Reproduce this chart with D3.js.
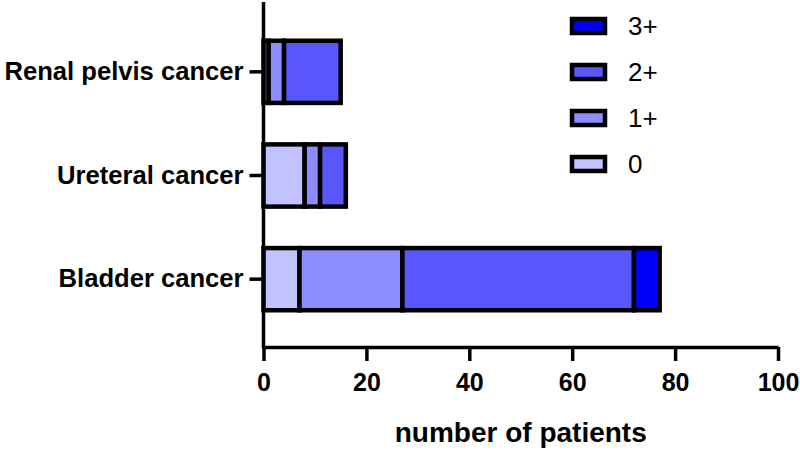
<!DOCTYPE html>
<html><head><meta charset="utf-8">
<script src="https://cdn.jsdelivr.net/npm/d3@7"></script>
<style>body{margin:0;background:#fff}svg{display:block}</style>
</head><body><svg id="c" width="800" height="451"></svg>
<script>
const categories = ["Renal pelvis cancer", "Ureteral cancer", "Bladder cancer"];
const seriesNames = ["0", "1+", "2+", "3+"];
const values0  = [1, 8, 7];
const values1  = [3, 3, 20];
const values2  = [11, 5, 45];
const values3  = [0, 0, 5];
const xTicks = [0, 20, 40, 60, 80, 100];
const colors = ["#c2c2ff", "#8d8dff", "#5757fb", "#0000f8"];

const svg = d3.select("#c");
const x = d3.scaleLinear().domain([0, 100]).range([263.5, 778]);
const y = d3.scaleBand().domain(categories).range([20, 331]).paddingInner(0.4).paddingOuter(0.2);

const rows = categories.map((c, i) => ({cat: c, "0": values0[i], "1+": values1[i], "2+": values2[i], "3+": values3[i]}));
const stacked = d3.stack().keys(seriesNames)(rows);

const font = "'Liberation Sans', Arial, sans-serif";

// bars
stacked.forEach((layer, li) => {
  svg.append("g").selectAll("rect").data(layer.filter(d => d[1] > d[0])).join("rect")
    .attr("x", d => x(d[0]))
    .attr("width", d => x(d[1]) - x(d[0]))
    .attr("y", d => y(d.data.cat))
    .attr("height", y.bandwidth())
    .attr("fill", colors[li])
    .attr("stroke", "#000")
    .attr("stroke-width", 4.5);
});

// x axis
const xAxis = svg.append("g").attr("transform", "translate(0,347)")
  .call(d3.axisBottom(x).tickValues(xTicks).tickSize(14).tickPadding(12).tickSizeOuter(0));
xAxis.select(".domain").attr("stroke-width", 3.5).attr("stroke", "#000");
xAxis.selectAll(".tick line").attr("stroke-width", 3.5).attr("stroke", "#000");
xAxis.selectAll("text").attr("font-family", font).attr("font-weight", "bold").attr("font-size", 25).attr("fill", "#000");

// y axis
const yAxis = svg.append("g").attr("transform", "translate(263.5,0)")
  .call(d3.axisLeft(y).tickSize(14).tickPadding(6).tickSizeOuter(0));
yAxis.select(".domain").attr("d", "M0,2V348.5").attr("stroke-width", 3.5).attr("stroke", "#000");
yAxis.selectAll(".tick line").attr("stroke-width", 3.5).attr("stroke", "#000");
yAxis.selectAll("text").attr("font-family", font).attr("font-weight", "bold").attr("font-size", 25.6).attr("fill", "#000");

// x title
svg.append("text").attr("x", x(50)).attr("y", 442).attr("text-anchor", "middle")
  .attr("font-family", font).attr("font-weight", "bold").attr("font-size", 28).text("number of patients");

// legend
const legendOrder = ["3+", "2+", "1+", "0"];
const lg = svg.append("g");
legendOrder.forEach((name, i) => {
  const cy = 26 + i * 46;
  lg.append("rect").attr("x", 572).attr("y", cy - 7).attr("width", 33).attr("height", 14)
    .attr("fill", colors[seriesNames.indexOf(name)]).attr("stroke", "#000").attr("stroke-width", 4.5);
  lg.append("text").attr("x", 628).attr("y", cy + 9).attr("font-family", font)
    .attr("font-size", 26).attr("fill", "#000").text(name);
});
</script></body></html>
